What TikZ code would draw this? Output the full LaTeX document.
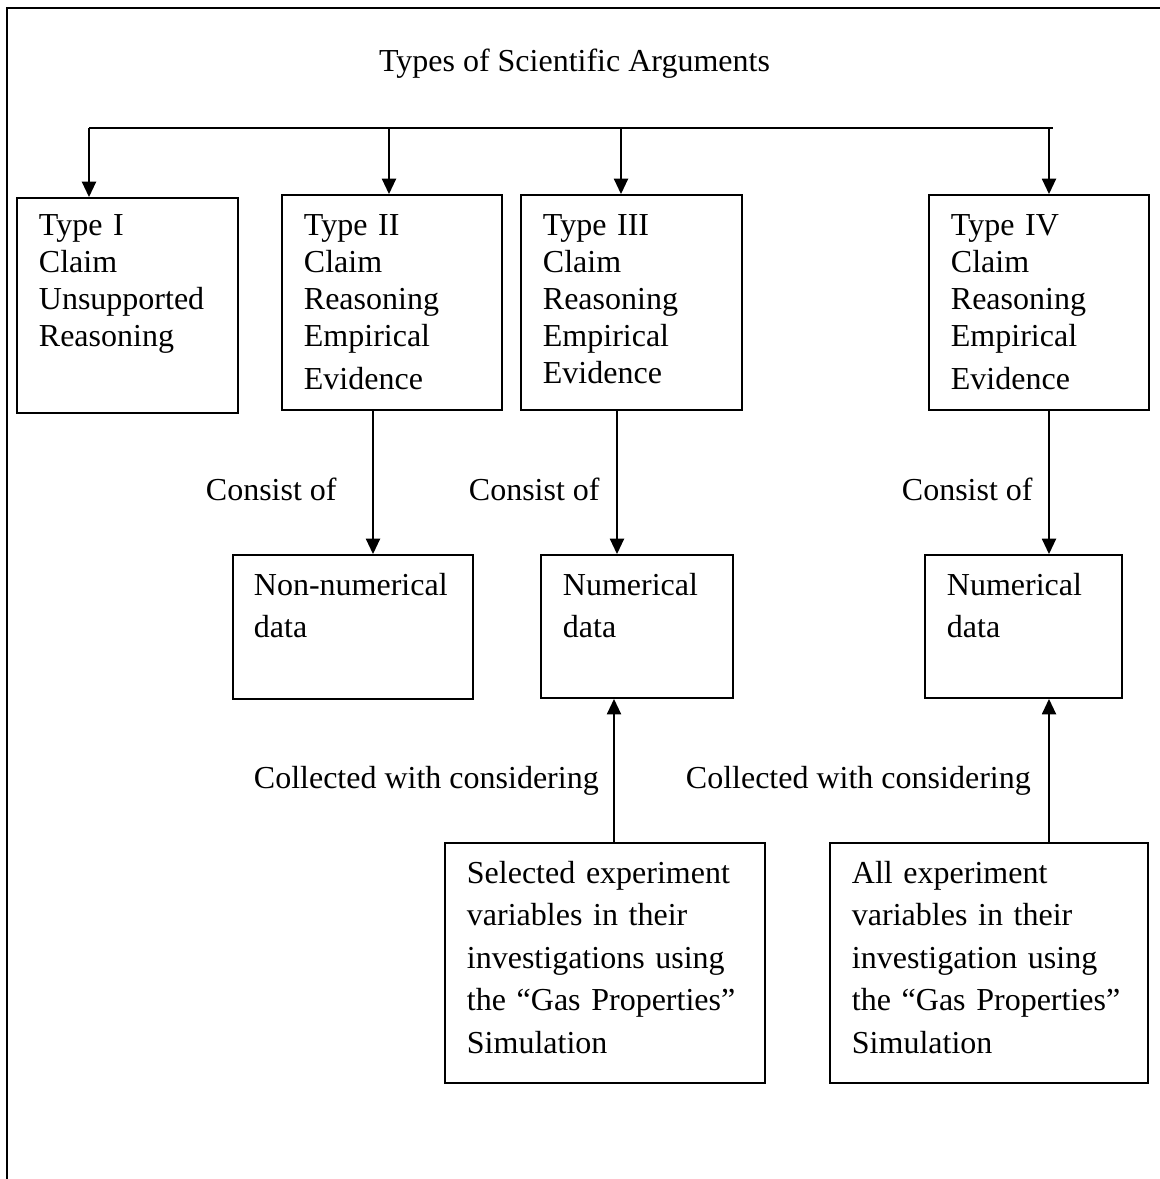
\documentclass[tikz,border=0pt]{standalone}
\usepackage{fontspec}
\setmainfont{Liberation Serif}
\usetikzlibrary{arrows.meta,fit,calc}
\begin{document}
\begin{tikzpicture}[x=0.75pt,y=-0.75pt,line width=1.4pt,
  box/.style={draw,inner sep=0pt,fit={#1}},
  txtA/.style={inner sep=0pt,anchor=base west,text width=220pt,align=left,font=\fontsize{24}{27.8}\selectfont},
  txtB/.style={inner sep=0pt,anchor=base west,text width=240pt,align=left,font=\fontsize{24}{31.9}\selectfont},
  lbl/.style={inner sep=0pt,anchor=base west,font=\fontsize{24}{28}\selectfont},
  arr/.style={-{Triangle[length=11.5pt,width=10.5pt]}}]
\useasboundingbox (0,0) rectangle (1160,1179);
% page frame
\draw (7,1179) -- (7,8) -- (1160,8);
% title
\node[lbl,anchor=base] (title) at (574.5,71) {Types of Scientific Arguments};
% boxes
\node[box={(17,198) (238,413)}] (t1) {};
\node[box={(282,195) (502,410)}] (t2) {};
\node[box={(521,195) (742,410)}] (t3) {};
\node[box={(929,195) (1149,410)}] (t4) {};
\node[box={(233,555) (473,699)}] (n2) {};
\node[box={(541,555) (733,698)}] (n3) {};
\node[box={(925,555) (1122,698)}] (n4) {};
\node[box={(445,843) (765,1083)}] (s3) {};
\node[box={(830,843) (1148,1083)}] (s4) {};
% box texts
\node[txtA] (t1t) at (38,235) {Type I\\Claim\\Unsupported\\Reasoning};
\node[txtA] (t2t) at (303,235) {Type II\\Claim\\Reasoning\\Empirical\\[4.5pt]Evidence};
\node[txtA] (t3t) at (542,235) {Type III\\Claim\\Reasoning\\Empirical\\Evidence};
\node[txtA] (t4t) at (950,235) {Type IV\\Claim\\Reasoning\\Empirical\\[4.5pt]Evidence};
\node[txtB] (n2t) at (253,595) {Non-numerical\\data};
\node[txtB] (n3t) at (562,595) {Numerical\\data};
\node[txtB] (n4t) at (946,595) {Numerical\\data};
\node[txtB] (s3t) at (466,883) {Selected experiment\\variables in their\\investigations using\\the “Gas Properties”\\Simulation};
\node[txtB] (s4t) at (851,883) {All experiment\\variables in their\\investigation using\\the “Gas Properties”\\Simulation};
% labels
\node[lbl] (c2) at (205,500) {Consist of};
\node[lbl] (c3) at (468,500) {Consist of};
\node[lbl] (c4) at (901,500) {Consist of};
\node[lbl] (k3) at (253,788) {Collected with considering};
\node[lbl] (k4) at (685,788) {Collected with considering};
% bus
\coordinate (tap1) at (89,128);
\coordinate (tap2) at (389,128);
\coordinate (tap3) at (621,128);
\coordinate (tap4) at (1049,128);
\coordinate (busR) at (1053,128);
\draw (tap1) -- (busR);
\draw[arr] (tap1) -- (tap1 |- t1.north);
\draw[arr] (tap2) -- (tap2 |- t2.north);
\draw[arr] (tap3) -- (tap3 |- t3.north);
\draw[arr] (tap4) -- (tap4 |- t4.north);
% down arrows
\coordinate (x2) at (373,0);
\coordinate (x3) at (617,0);
\coordinate (x4) at (1049,0);
\coordinate (u3) at (614,0);
\draw[arr] (t2.south -| x2) -- (n2.north -| x2);
\draw[arr] (t3.south -| x3) -- (n3.north -| x3);
\draw[arr] (t4.south -| x4) -- (n4.north -| x4);
% up arrows
\draw[arr] (s3.north -| u3) -- (n3.south -| u3);
\draw[arr] (s4.north -| x4) -- (n4.south -| x4);
\end{tikzpicture}
\end{document}
